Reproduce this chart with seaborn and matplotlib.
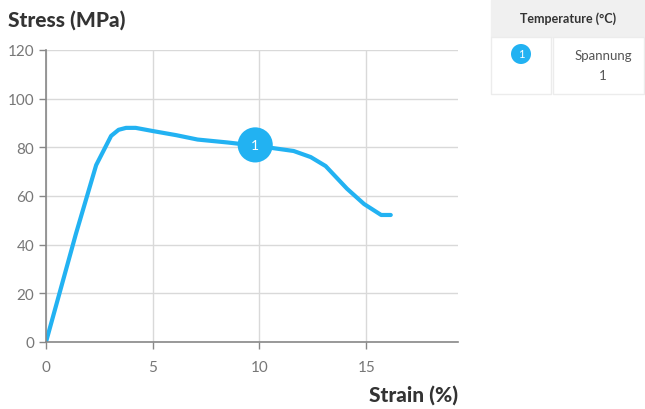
import matplotlib
matplotlib.use("Agg")
import matplotlib.pyplot as plt
import seaborn as sns
import pandas as pd
from matplotlib.patches import Rectangle, Ellipse

strain = [0.0, 1.4, 2.35, 3.05, 3.4, 3.75, 4.2, 5.0, 6.1, 7.1, 8.5, 9.8, 11.6, 12.4, 13.1, 14.1, 14.9, 15.7, 16.15]
stress = [0.0, 44.4, 72.7, 84.7, 87.2, 88.0, 88.0, 86.7, 85.0, 83.2, 82.0, 80.7, 78.5, 76.0, 72.3, 63.0, 56.7, 52.2, 52.2]
marker_x = [9.8]
marker_y = [81.0]
marker_labels = ["1"]
x_ticks = [0, 5, 10, 15]
y_ticks = [0, 20, 40, 60, 80, 100, 120]
legend_title = "Temperature (°C)"
legend_series = ["Spannung\n1"]

BLUE = "#22b2f2"
FONT = ["Lato", "DejaVu Sans"]

sns.set_theme(style="white")
plt.rcParams["font.family"] = FONT

fig = plt.figure(figsize=(6.45, 4.10), dpi=100)
ax = fig.add_axes([46/645, 1-343/410, (458-46)/645, (343-51)/410])

df = pd.DataFrame({"strain": strain, "stress": stress})
sns.lineplot(data=df, x="strain", y="stress", ax=ax, color=BLUE, linewidth=3, sort=False)
ax.scatter(marker_x, marker_y, s=640, color=BLUE, zorder=5, edgecolor="none")
for mx, my, ml in zip(marker_x, marker_y, marker_labels):
    ax.text(mx, my, ml, color="white", ha="center", va="center", fontsize=10, zorder=6)

ax.set_xlim(0, 19.3)
ax.set_ylim(0, 120)
ax.set_xticks(x_ticks)
ax.set_yticks(y_ticks)
ax.grid(True, color="#d9d9d9", linewidth=1)
ax.set_axisbelow(True)
for s in ["top", "right"]:
    ax.spines[s].set_visible(False)
ax.spines["left"].set_color("#888888")
ax.spines["bottom"].set_color("#888888")
ax.spines["left"].set_linewidth(1.2)
ax.spines["bottom"].set_linewidth(1.2)
ax.tick_params(axis="both", colors="#888888", labelcolor="#777777", labelsize=11, length=5, width=1, direction="out", left=True, bottom=True)
ax.tick_params(axis="x", pad=8)
ax.set_xlabel("")
ax.set_ylabel("")

fig.text(8/645, 1-20/410, "Stress (MPa)", fontsize=15, fontweight="black", color="#333333", ha="left", va="center")
fig.text(458/645, 1-395/410, "Strain (%)", fontsize=15, fontweight="black", color="#333333", ha="right", va="center")

# legend table
W, H = 645, 410
def rect(x0, y0, x1, y1, fc, ec):
    fig.patches.append(Rectangle((x0/W, 1-y1/H), (x1-x0)/W, (y1-y0)/H, transform=fig.transFigure,
                                 facecolor=fc, edgecolor=ec, linewidth=1))
rect(491, 1, 644, 38, "#f0f0f0", "#f0f0f0")
rect(491, 38, 551, 95, "white", "#ececec")
rect(553, 38, 644, 95, "white", "#ececec")
fig.text(568/W, 1-19/H, legend_title, fontsize=9, fontweight="bold", color="#333333", ha="center", va="center")
fig.patches.append(Ellipse((521/W, 1-55/H), 20/W, 20/H, transform=fig.transFigure, facecolor=BLUE, edgecolor="none"))
fig.text(521/W, 1-55/H, "1", fontsize=8, color="white", ha="center", va="center")
fig.text(603/W, 1-66/H, legend_series[0], fontsize=9.5, color="#555555", ha="center", va="center", linespacing=1.7)

fig.savefig("out.png", dpi=100)
